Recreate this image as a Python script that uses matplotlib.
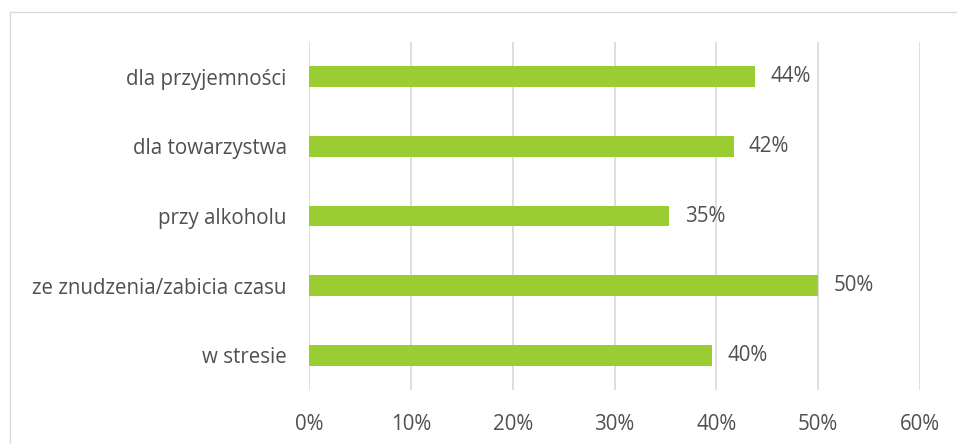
import matplotlib
matplotlib.use("Agg")
import matplotlib.pyplot as plt
from matplotlib.patches import Rectangle

categories = ["dla przyjemności", "dla towarzystwa", "przy alkoholu",
              "ze znudzenia/zabicia czasu", "w stresie"]
values = [43.8, 41.7, 35.4, 50.0, 39.6]
labels = ["44%", "42%", "35%", "50%", "40%"]
xticks = [0, 10, 20, 30, 40, 50, 60]

plt.rcParams['font.family'] = ['Open Sans', 'DejaVu Sans']
txt = '#505050'
fs = 14.8

fig = plt.figure(figsize=(9.57, 4.44), dpi=100)
ax = fig.add_axes([309/957, 1-390/444, (920-309)/957, (390-42)/444])

# border around the chart area
fig.patches.append(Rectangle((10/957, -0.1), 1.2, 1-12/444+0.1, transform=fig.transFigure,
                             fill=False, edgecolor='#D9D9D9', linewidth=1))

y = list(range(len(categories)))[::-1]
ax.barh(y, values, height=0.3, color='#9ACD32', zorder=3)
for yi, v, l in zip(y, values, labels):
    ax.text(v + 1.5, yi, l, va='center', ha='left', fontsize=fs, color=txt)

ax.set_xlim(0, 60)
ax.set_ylim(-0.5, 4.5)
ax.set_xticks(xticks)
ax.set_xticklabels([f"{t}%" for t in xticks], fontsize=fs, color=txt)
ax.set_yticks(y)
ax.set_yticklabels(categories, fontsize=fs, color=txt)
ax.tick_params(length=0)
ax.tick_params(axis='x', pad=17)
ax.tick_params(axis='y', pad=16)
ax.grid(axis='x', color='#D9D9D9', linewidth=1.2, zorder=0)
for s in ax.spines.values():
    s.set_visible(False)

fig.savefig("out.png", dpi=100)
